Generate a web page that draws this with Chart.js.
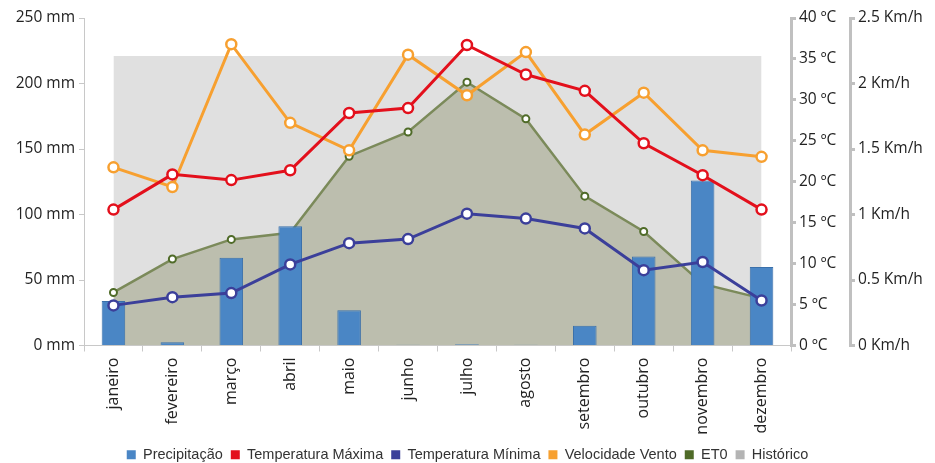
<!DOCTYPE html>
<html>
<head>
<meta charset="utf-8">
<script src="https://cdn.jsdelivr.net/npm/chart.js@4"></script>
<style>
  html, body { margin: 0; padding: 0; background: #fff; }
  #wrap { width: 935px; height: 463px; }
</style>
</head>
<body>
<div id="wrap"><canvas id="myChart" width="935" height="463"></canvas></div>
<script>
const months = ['janeiro', 'fevereiro', 'março', 'abril', 'maio', 'junho', 'julho', 'agosto', 'setembro', 'outubro', 'novembro', 'dezembro'];
const precipitacao = [34, 2.5, 67, 91, 27, 0.5, 1, 0.5, 15, 68, 126, 60];
const tempMax = [16.6, 20.9, 20.2, 21.4, 28.4, 29, 36.7, 33.1, 31.1, 24.7, 20.8, 16.6];
const tempMin = [4.9, 5.9, 6.4, 9.9, 12.5, 13, 16.1, 15.5, 14.3, 9.2, 10.2, 5.5];
const vento = [1.36, 1.21, 2.30, 1.70, 1.49, 2.22, 1.91, 2.24, 1.61, 1.93, 1.49, 1.44];
const et0 = [40.5, 66, 81, 86, 144.5, 163, 201, 173, 114, 87, 47, 36];
const historico = [221, 221, 221, 221, 221, 221, 221, 221, 221, 221, 221, 221];
const legendColors = ['#4a86c5', '#e3101c', '#3b3f9a', '#f7a030', '#4f6b28', '#b4b4b4'];

const tickFont = { family: 'Open Sans', size: 15.5 };
const ctx = document.getElementById('myChart');

function lineSet(label, data, color, axis, order) {
    return {
        type: 'line',
        label: label,
        data: data,
        yAxisID: axis,
        borderColor: color,
        backgroundColor: color,
        borderWidth: 3,
        pointRadius: 5,
        pointBorderWidth: 2.5,
        pointBackgroundColor: '#fff',
        pointBorderColor: color,
        tension: 0,
        fill: false,
        order: order
    };
}

new Chart(ctx, {
    type: 'bar',
    data: {
        labels: months,
        datasets: [
            {
                label: 'Precipitação',
                data: precipitacao,
                yAxisID: 'y',
                backgroundColor: '#4a86c5',
                borderColor: '#3a70aa',
                borderWidth: 1,
                barPercentage: 0.8,
                categoryPercentage: 0.5,
                order: 3
            },
            lineSet('Temperatura Máxima', tempMax, '#e3101c', 'y2', 1),
            lineSet('Temperatura Mínima', tempMin, '#3b3f9a', 'y2', 1),
            lineSet('Velocidade Vento', vento, '#f7a030', 'y3', 2),
            {
                type: 'line',
                label: 'ET0',
                data: et0,
                yAxisID: 'y',
                borderColor: '#7b8a5a',
                backgroundColor: '#bcbeae',
                borderWidth: 2.5,
                pointRadius: 3.5,
                pointBorderWidth: 2,
                pointBackgroundColor: '#fff',
                pointBorderColor: '#4f6b28',
                tension: 0,
                fill: 'origin',
                order: 4
            },
            {
                type: 'line',
                label: 'Histórico',
                data: historico,
                yAxisID: 'y',
                borderColor: 'rgba(0,0,0,0)',
                backgroundColor: '#e0e0e0',
                borderWidth: 0,
                pointRadius: 0,
                tension: 0,
                fill: 'origin',
                order: 5
            }
        ]
    },
    options: {
        responsive: false,
        animation: false,
        events: [],
        layout: { padding: { top: 18, right: 0, left: 0, bottom: -9 } },
        scales: {
            x: {
                offset: true,
                ticks: { color: '#222', font: { family: 'Open Sans', size: 16 }, minRotation: 90, maxRotation: 90, padding: 6 },
                grid: { offset: true, drawOnChartArea: false, drawTicks: true, tickLength: 6, color: '#c8c8c8' },
                border: { display: true, color: '#c8c8c8', width: 1 },
                afterFit: s => { s.height = 94; }
            },
            y: {
                position: 'left',
                min: 0,
                max: 250,
                ticks: { stepSize: 50, color: '#222', font: tickFont, padding: 4, callback: v => v + ' mm' },
                grid: { drawOnChartArea: false, drawTicks: true, tickLength: 5, color: '#c8c8c8' },
                border: { display: true, color: '#c8c8c8', width: 1 },
                afterFit: s => { s.width = 84; }
            },
            y2: {
                position: 'right',
                weight: 0,
                min: 0,
                max: 40,
                ticks: { stepSize: 5, color: '#222', font: tickFont, padding: 3, callback: v => v + ' ºC' },
                grid: { drawOnChartArea: false, drawTicks: true, tickLength: 5, color: '#c0c0c0', lineWidth: 3 },
                border: { display: true, color: '#c0c0c0', width: 3 },
                afterFit: s => { s.width = 59; }
            },
            y3: {
                position: 'right',
                weight: 1,
                min: 0,
                max: 2.5,
                ticks: { stepSize: 0.5, color: '#222', font: tickFont, padding: 3, callback: v => v + ' Km/h' },
                grid: { drawOnChartArea: false, drawTicks: true, tickLength: 5, color: '#c0c0c0', lineWidth: 3 },
                border: { display: true, color: '#c0c0c0', width: 3 },
                afterFit: s => { s.width = 85; }
            }
        },
        plugins: {
            legend: {
                position: 'bottom',
                labels: {
                    color: '#333',
                    font: { family: 'Liberation Sans', size: 14.5 },
                    boxWidth: 9,
                    boxHeight: 9,
                    padding: 8,
                    generateLabels: chart => {
                        const items = Chart.defaults.plugins.legend.labels.generateLabels(chart);
                        items.sort((a, b) => a.datasetIndex - b.datasetIndex);
                        items.forEach(it => {
                            it.fillStyle = legendColors[it.datasetIndex];
                            it.strokeStyle = legendColors[it.datasetIndex];
                            it.lineWidth = 0;
                        });
                        return items;
                    }
                }
            },
            tooltip: { enabled: false }
        }
    }
});
</script>
</body>
</html>
